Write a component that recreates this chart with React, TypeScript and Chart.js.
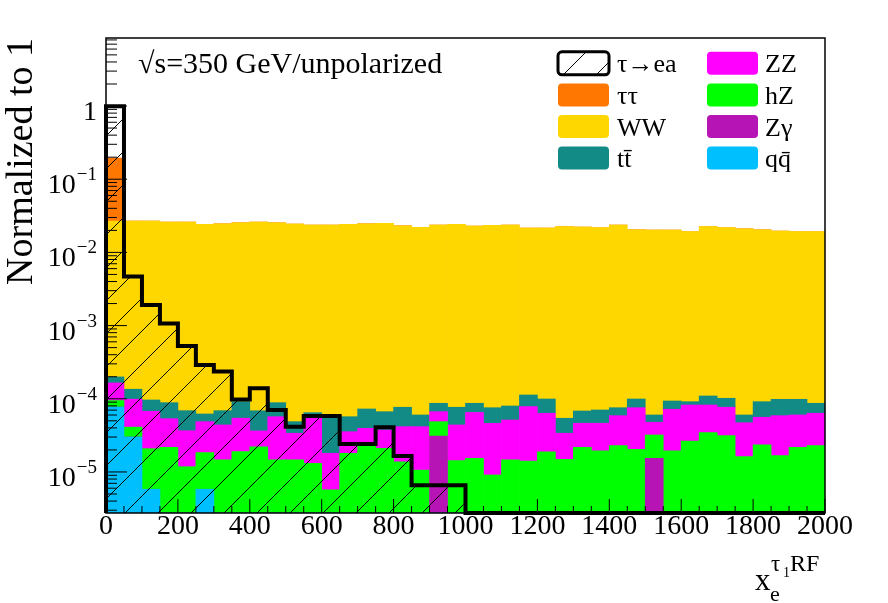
import { useEffect, useRef } from 'react';
import { Chart, registerables } from 'chart.js';

Chart.register(...registerables);

const FONT = '"Liberation Serif", "DejaVu Serif", serif';

// 40 bins of 50 GeV from 0 to 2000
const binEdges = Array.from({ length: 41 }, (_, i) => i * 50);
const xTicks = [0, 200, 400, 600, 800, 1000, 1200, 1400, 1600, 1800, 2000];
const yDecades = [0, -1, -2, -3, -4, -5];
const YMIN = 2.75e-6;
const YMAX = 8.5;

const signal = [
  0.99, 4.7e-3, 1.91e-3, 1.07e-3, 5.26e-4, 2.9e-4, 2.35e-4, 9.8e-5, 1.39e-4, 7.0e-5,
  4.16e-5, 5.8e-5, 5.8e-5, 2.41e-5, 2.41e-5, 4.08e-5, 1.65e-5, 6.6e-6, 6.6e-6, 6.6e-6,
  0, 0, 0, 0, 0, 0, 0, 0, 0, 0,
  0, 0, 0, 0, 0, 0, 0, 0, 0, 0,
];

const qqbar = [
  7.7e-5, 3.0e-5, 5.8e-6, 0, 0, 5.8e-6, 0, 0, 0, 0,
  0, 0, 0, 0, 0, 0, 0, 0, 0, 0,
  0, 0, 0, 0, 0, 0, 0, 0, 0, 0,
  0, 0, 0, 0, 0, 0, 0, 0, 0, 0,
];

const zgamma = [
  0, 0, 0, 0, 0, 0, 0, 0, 0, 0,
  0, 0, 0, 0, 0, 0, 0, 0, 3.1e-5, 0,
  0, 0, 0, 0, 0, 0, 0, 0, 0, 0,
  1.54e-5, 0, 0, 0, 0, 0, 0, 0, 0, 0,
];

const hz = [
  1.76e-5, 1.1e-5, 1.5e-5, 2.17e-5, 1.18e-5, 1.26e-5, 1.46e-5, 1.9e-5, 2.2e-5, 1.46e-5,
  1.46e-5, 1.31e-5, 5.7e-6, 1.8e-5, 2.34e-5, 2.1e-5, 1.38e-5, 1.06e-5, 1.77e-5, 1.43e-5,
  1.54e-5, 9.1e-6, 1.46e-5, 1.41e-5, 1.89e-5, 1.49e-5, 2.17e-5, 1.95e-5, 2.29e-5, 2.04e-5,
  1.66e-5, 1.95e-5, 2.65e-5, 3.44e-5, 3.13e-5, 1.62e-5, 2.34e-5, 1.67e-5, 2.17e-5, 2.29e-5,
];

const zz = [
  7.0e-5, 5.76e-5, 4.67e-5, 3.18e-5, 2.48e-5, 3.03e-5, 2.93e-5, 3.53e-5, 1.44e-5, 4.23e-5,
  1.92e-5, 4.11e-5, 1.23e-5, 1.75e-5, 1.61e-5, 1.64e-5, 2.78e-5, 3.1e-5, 1.8e-5, 2.96e-5,
  4.96e-5, 3.72e-5, 3.67e-5, 6.39e-5, 4.45e-5, 1.89e-5, 2.46e-5, 2.68e-5, 3.59e-5, 5.51e-5,
  1.58e-5, 5.24e-5, 5.57e-5, 4.78e-5, 4.53e-5, 3.09e-5, 3.25e-5, 4.21e-5, 3.84e-5, 4.05e-5,
];

const ttbar = [
  3.42e-5, 3.65e-5, 2.88e-5, 3.5e-5, 3.22e-5, 1.33e-5, 2.49e-5, 3.71e-5, 3.22e-5, 3.16e-5,
  1.49e-5, 1.04e-5, 3.84e-5, 2.14e-5, 3.31e-5, 2.92e-5, 3.5e-5, 1.85e-5, 2.01e-5, 3.27e-5,
  2.18e-5, 2.92e-5, 2.84e-5, 3.47e-5, 3.59e-5, 2.04e-5, 2.18e-5, 2.4e-5, 1.67e-5, 2.38e-5,
  1.23e-5, 2.14e-5, 0.91e-5, 2.7e-5, 2.5e-5, 1.3e-5, 3.54e-5, 3.96e-5, 3.83e-5, 2.34e-5,
];

const ww = [
  0.02665, 0.02672, 0.02675, 0.02591, 0.02593, 0.02414, 0.02459, 0.02535, 0.02593, 0.02535,
  0.02438, 0.02361, 0.02361, 0.02414, 0.02459, 0.0249, 0.02308, 0.02196, 0.02358, 0.02412,
  0.02285, 0.02337, 0.02359, 0.02143, 0.02144, 0.0224, 0.02216, 0.02168, 0.02359, 0.02032,
  0.02017, 0.02014, 0.01909, 0.02234, 0.02165, 0.02101, 0.02033, 0.0195, 0.01908, 0.01909,
];

const tautau = [
  0.168, 0, 0, 0, 0, 0, 0, 0, 0, 0,
  0, 0, 0, 0, 0, 0, 0, 0, 0, 0,
  0, 0, 0, 0, 0, 0, 0, 0, 0, 0,
  0, 0, 0, 0, 0, 0, 0, 0, 0, 0,
];

// bottom of the stack first
const stack = [
  { name: 'qq\u0304', color: '#00bfff', values: qqbar },
  { name: 'Z\u03b3', color: '#b614b4', values: zgamma },
  { name: 'hZ', color: '#00ff00', values: hz },
  { name: 'ZZ', color: '#ff00ff', values: zz },
  { name: 'tt\u0304', color: '#128a86', values: ttbar },
  { name: 'WW', color: '#ffd700', values: ww },
  { name: '\u03c4\u03c4', color: '#ff7700', values: tautau },
];

const legendOrder = ['\u03c4\u2192ea', '\u03c4\u03c4', 'WW', 'tt\u0304', 'ZZ', 'hZ', 'Z\u03b3', 'qq\u0304'];

function makeHatch(ctx: CanvasRenderingContext2D) {
  const c = document.createElement('canvas');
  c.width = 33;
  c.height = 33;
  const g = c.getContext('2d')!;
  g.strokeStyle = '#000';
  g.lineWidth = 1;
  g.beginPath();
  g.moveTo(-1, 34);
  g.lineTo(34, -1);
  g.stroke();
  const p = ctx.createPattern(c, 'repeat')!;
  p.setTransform(new DOMMatrix().translate(11, 0));
  return p;
}

const rootDecor = {
  id: 'rootDecor',
  afterDatasetsDraw(chart: any) {
    const { ctx, chartArea: a, scales } = chart;
    const xs = scales.x2;
    const ys = scales.y;
    ctx.save();
    ctx.strokeStyle = '#000';
    ctx.fillStyle = '#000';

    // ticks, pointing inwards
    ctx.lineWidth = 1;
    ctx.beginPath();
    for (let v = 0; v <= 2000; v += 50) {
      const px = xs.getPixelForValue(v);
      const len = v % 200 === 0 ? 14 : 7;
      ctx.moveTo(px, a.bottom);
      ctx.lineTo(px, a.bottom - len);
    }
    for (let k = -6; k <= 0; k++) {
      for (let m = 1; m <= 9; m++) {
        const v = m * Math.pow(10, k);
        if (v < YMIN || v > YMAX) continue;
        const py = ys.getPixelForValue(v);
        ctx.moveTo(a.left, py);
        ctx.lineTo(a.left + (m === 1 ? 21 : 11), py);
      }
    }
    ctx.stroke();

    // frame
    ctx.lineWidth = 1.5;
    ctx.strokeRect(a.left, a.top, a.right - a.left, a.bottom - a.top);

    // x tick labels
    ctx.font = `28px ${FONT}`;
    ctx.textAlign = 'center';
    ctx.textBaseline = 'alphabetic';
    xTicks.forEach((v) => ctx.fillText(String(v), xs.getPixelForValue(v), a.bottom + 21));

    // y tick labels
    const right = a.left - 9;
    yDecades.forEach((e) => {
      const py = ys.getPixelForValue(Math.pow(10, e));
      ctx.textAlign = 'right';
      if (e === 0) {
        ctx.font = `28px ${FONT}`;
        ctx.fillText('1', right, py + 14);
        return;
      }
      const ex = `\u2212${-e}`;
      ctx.font = `19px ${FONT}`;
      const w = ctx.measureText(ex).width;
      ctx.fillText(ex, right, py + 1);
      ctx.font = `28px ${FONT}`;
      ctx.fillText('10', right - w - 1, py + 14);
    });

    // axis titles
    ctx.save();
    ctx.translate(32, a.top);
    ctx.rotate(-Math.PI / 2);
    ctx.textAlign = 'right';
    ctx.font = `38px ${FONT}`;
    ctx.fillText('Normalized to 1', 0, 0);
    ctx.restore();

    ctx.textAlign = 'left';
    ctx.font = `31px ${FONT}`;
    ctx.fillText('x', 755, 590);
    ctx.font = `22px ${FONT}`;
    ctx.fillText('e', 770, 601);
    ctx.font = `23px ${FONT}`;
    ctx.fillText('\u03c4', 771, 571);
    ctx.font = `14px ${FONT}`;
    ctx.fillText('1', 783, 577);
    ctx.font = `24px ${FONT}`;
    ctx.fillText('RF', 790, 571);

    ctx.font = `30px ${FONT}`;
    ctx.fillText('\u221as=350 GeV/unpolarized', 138, 73);

    // legend
    const colors: Record<string, string> = {};
    stack.forEach((s) => (colors[s.name] = s.color));
    legendOrder.forEach((name, i) => {
      const col = i < 4 ? 0 : 1;
      const row = i % 4;
      const cy = 63.3 + row * 31.6;
      const sx = col === 0 ? 558 : 707;
      const tx = col === 0 ? 617 : 765;
      ctx.beginPath();
      ctx.roundRect(sx, cy - 11.5, 51, 23, 4);
      if (i === 0) {
        ctx.fillStyle = '#fff';
        ctx.fill();
        ctx.fillStyle = makeHatch(ctx);
        ctx.fill();
        ctx.lineWidth = 3;
        ctx.strokeStyle = '#000';
        ctx.stroke();
      } else {
        ctx.fillStyle = colors[name];
        ctx.fill();
      }
      ctx.fillStyle = '#000';
      ctx.font = `26px ${FONT}`;
      ctx.fillText(name, tx, cy + 9);
    });

    ctx.restore();
  },
};

export default function App() {
  const canvasRef = useRef<HTMLCanvasElement | null>(null);
  const chartRef = useRef<Chart | null>(null);

  useEffect(() => {
    if (!canvasRef.current) return;
    if (chartRef.current) chartRef.current.destroy();
    const ctx = canvasRef.current.getContext('2d')!;

    const below = new Array(40).fill(0);
    const bars = stack.map((s) => ({
      type: 'bar' as const,
      label: s.name,
      xAxisID: 'x',
      yAxisID: 'y',
      data: s.values.map((v, i) => {
        const lo = below[i];
        const hi = lo + v;
        below[i] = hi;
        return [Math.max(lo, YMIN), Math.max(hi, YMIN)];
      }),
      backgroundColor: s.color,
      borderWidth: 0,
      grouped: false,
      barPercentage: 1,
      categoryPercentage: 1,
      order: 2,
    }));

    const sigPoints = [
      { x: binEdges[0], y: YMIN },
      ...signal.map((v, i) => ({ x: binEdges[i], y: Math.max(v, YMIN) })),
      { x: binEdges[40], y: Math.max(signal[39], YMIN) },
    ];

    chartRef.current = new Chart(canvasRef.current, {
      type: 'bar',
      data: {
        labels: binEdges.slice(0, 40).map(String),
        datasets: [
          ...bars,
          {
            type: 'line' as const,
            label: '\u03c4\u2192ea',
            xAxisID: 'x2',
            yAxisID: 'y',
            data: sigPoints,
            stepped: 'before',
            borderColor: '#000',
            borderWidth: 4,
            borderJoinStyle: 'miter',
            backgroundColor: makeHatch(ctx),
            fill: 'start',
            pointRadius: 0,
            clip: 4,
            order: 0,
          } as any,
        ],
      },
      options: {
        responsive: false,
        animation: false,
        events: [],
        layout: { padding: { left: 106, right: 63, top: 38, bottom: 90 } },
        plugins: {
          legend: { display: false },
          tooltip: { enabled: false },
        },
        scales: {
          x: { type: 'category', display: false, offset: true },
          x2: { type: 'linear', display: false, min: 0, max: 2000, offset: false },
          y: { type: 'logarithmic', display: false, min: YMIN, max: YMAX },
        },
      },
      plugins: [rootDecor],
    });

    return () => {
      chartRef.current?.destroy();
      chartRef.current = null;
    };
  }, []);

  return (
    <div style={{ position: 'absolute', left: 0, top: 0, width: 888, height: 603, background: '#fff' }}>
      <canvas ref={canvasRef} width={888} height={603} />
    </div>
  );
}
